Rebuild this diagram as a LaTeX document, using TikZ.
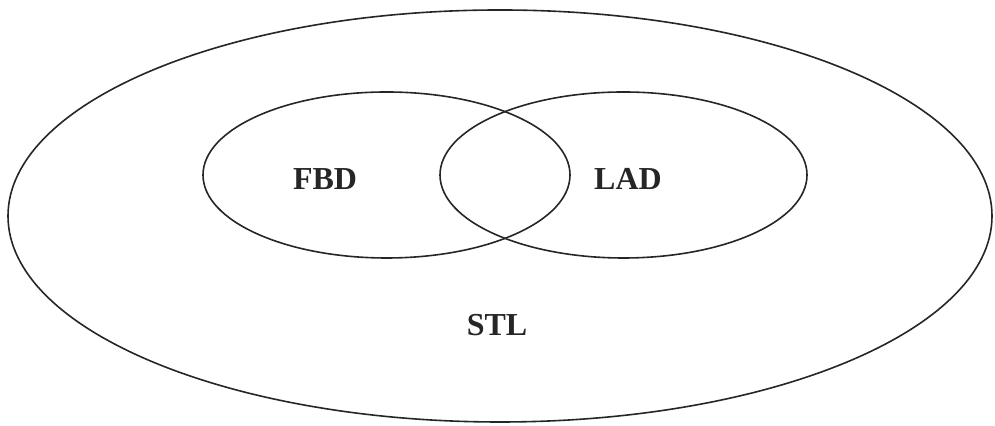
\documentclass[tikz,border=0pt]{standalone}
\usepackage{fontspec}
\setmainfont{Liberation Serif}
\usepackage{tikz}
\usetikzlibrary{positioning}

\begin{document}
\begin{tikzpicture}[
    x=0.5pt, y=0.5pt, line cap=round,
    venn/.style ={draw=black!85, line width=0.8pt},
    setlab/.style={font=\fontsize{16}{18}\selectfont\bfseries, text=black!85, inner sep=1pt}
]
\useasboundingbox (0,0) rectangle (995,426);

% outer set
\draw[venn] (500,210) ellipse [x radius=492, y radius=206];

% the two inner sets
\draw[venn] (386.5,251) ellipse [x radius=183.5, y radius=83];
\draw[venn] (623.5,251) ellipse [x radius=183.5, y radius=83];

% labels
\node[setlab] (fbd) at (325,247) {FBD};
\node[setlab] (lad) at (628,247) {LAD};
\node[setlab] (stl) at (497,101) {STL};
\end{tikzpicture}
\end{document}
